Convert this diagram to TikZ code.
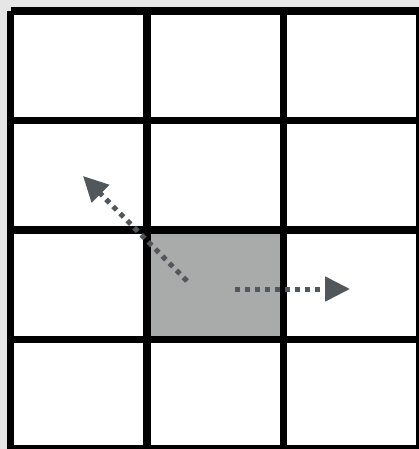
\documentclass[tikz,border=0pt]{standalone}
\usepackage{tikz}
\usetikzlibrary{arrows.meta}
\definecolor{bgpaper}{HTML}{E6E6E6}
\definecolor{cellgray}{HTML}{A8ABA9}
\definecolor{arrowgray}{HTML}{52575C}
\tikzstyle{gridline} = [line width=7.5pt, black]
\tikzstyle{arrow} = [line width=5pt, arrowgray, dash pattern=on 5pt off 5pt,
  -{Triangle[length=25pt, width=24pt]}]

\begin{document}
\begin{tikzpicture}[x=1pt, y=-1pt]
    \useasboundingbox (0,0) rectangle (419,449);
    \clip (0,0) rectangle (419,449);
    \fill[bgpaper] (0,0) rectangle (419,449);
    \fill[white] (10.5,11) rectangle (430,460);
    % highlighted cell
    \fill[cellgray] (147,230) rectangle (283.5,339.5);
    % grid
    \foreach \x in {10.5, 147, 283.5, 420}
      \draw[gridline] (\x,11) -- (\x,460);
    \foreach \y in {11, 120.5, 230, 339.5, 449}
      \draw[gridline] (10.5,\y) -- (430,\y);
    % moves
    \coordinate (diagstart) at (187,281);
    \coordinate (diagend) at (83,176);
    \coordinate (rightstart) at (235,289);
    \coordinate (rightend) at (350,289);
    \draw[arrow] (diagstart) -- (diagend);
    \draw[arrow] (rightstart) -- (rightend);
  \end{tikzpicture}
\end{document}
